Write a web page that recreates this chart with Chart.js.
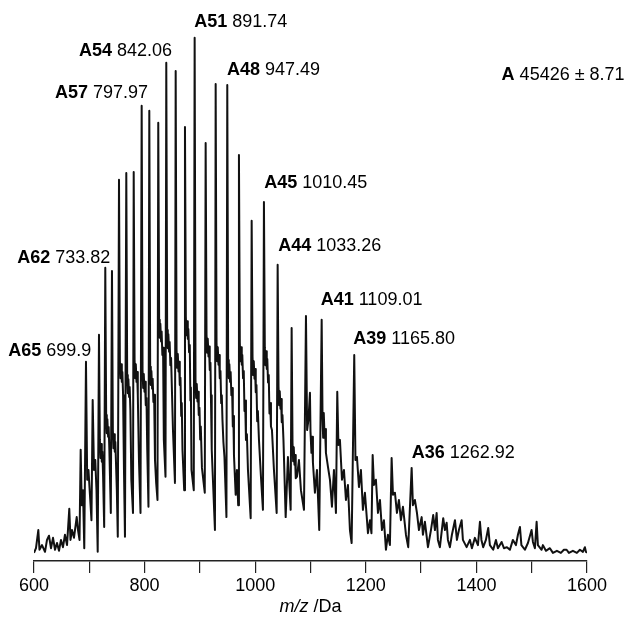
<!DOCTYPE html>
<html>
<head>
<meta charset="utf-8">
<script src="https://cdn.jsdelivr.net/npm/chart.js@4.4.1/dist/chart.umd.min.js"></script>
<style>
  html, body { margin: 0; padding: 0; background: #fff; }
  #wrap { width: 624px; height: 622px; }
</style>
</head>
<body>
<div id="wrap"><canvas id="myChart" width="624" height="622"></canvas></div>
<script>
const FONT = "'Liberation Sans', Arial, sans-serif";

// spectrum: m/z and relative intensity (%)
const spectrumMz = [
    600, 603.6, 607.8, 609.9, 614.5, 619.9, 623.5, 627.1, 630.7, 634.4, 638.0, 641.6, 645.2, 648.8, 652.4, 656.0, 659.7,
    663.8, 666.0, 668.7, 672.3, 677.2, 679.6, 682.3, 684.4, 686.4, 688.6, 690.9,
    694.0, 696.2, 698.5, 701.2, 703.9, 706.1, 708.5, 710.8, 713.0, 715.2,
    717.5, 719.1, 720.2, 721.3, 722.6, 723.6, 724.9, 726.9,
    728.9, 730.5, 731.6, 732.7, 734.0, 735.0, 736.3, 738.9,
    741.0, 742.6, 743.7, 744.8, 746.1, 747.1, 748.4, 749.8, 751.5,
    753.7, 755.3, 756.4, 757.5, 758.8, 759.8, 761.1, 762.7, 764.5,
    766.9, 768.5, 769.6, 770.7, 772.0, 773.0, 774.3, 776.0, 779.0,
    780.3, 781.9, 783.0, 784.1, 785.4, 786.4, 787.7, 789.8, 792.6,
    794.7, 796.3, 797.4, 798.5, 799.8, 800.8, 802.1, 803.4, 804.8, 807.0,
    808.5, 810.1, 811.2, 812.3, 813.6, 814.6, 815.9, 817.2, 818.8, 821.0, 823.3,
    824.7, 826.3, 827.4, 828.5, 829.8, 830.8, 832.1, 833.4, 834.8, 837.8,
    839.2, 840.8, 841.9, 843.0, 844.3, 845.3, 846.6, 847.9, 851.3, 854.9,
    856.2, 857.8, 858.9, 860.0, 861.3, 862.3, 863.6, 864.9, 866.2, 867.2, 868.5, 871.6,
    873.0, 874.6, 875.7, 876.8, 878.1, 879.1, 880.4, 881.7, 882.8, 883.7, 884.8, 888.9,
    890.5, 892.1, 893.2, 894.3, 895.6, 896.6, 897.9, 899.2, 900.5, 901.6, 903.7, 908.8,
    910.4, 912.0, 913.1, 914.2, 915.5, 916.5, 917.8, 919.1, 920.2, 921.0, 921.8, 927.2,
    928.5, 930.1, 931.2, 932.3, 933.6, 934.6, 935.9, 937.2, 938.5, 939.6, 940.8, 942.5, 944.4, 948.0,
    949.5, 951.1, 952.2, 953.3, 954.6, 955.6, 956.9, 958.2, 959.5, 960.5, 961.6, 964.7, 967.0, 969.2,
    970.6, 972.2, 973.3, 974.4, 975.7, 976.7, 978.0, 979.3, 980.6, 981.8, 983.3, 985.0, 986.9, 991.8,
    993.6, 995.2, 996.3, 997.4, 998.7, 999.7, 1001.0, 1002.3, 1003.6, 1004.8, 1006.8, 1010.4, 1014.0,
    1015.8, 1017.4, 1018.5, 1019.6, 1020.9, 1021.9, 1023.2, 1024.5, 1025.8, 1027.0, 1028.5, 1030.3, 1033.9, 1038.8,
    1040.6, 1042.2, 1043.3, 1044.4, 1045.7, 1046.7, 1048.0, 1049.3, 1051.1, 1055.1, 1059.2, 1064.1,
    1065.9, 1067.5, 1068.6, 1069.7, 1071.0, 1072.0, 1073.3, 1075.5, 1079.1, 1082.7, 1088.2,
    1091.8, 1093.9, 1096.3, 1099.0, 1100.0, 1101.7, 1102.8, 1104.4, 1108.0, 1111.7, 1115.8,
    1120.2, 1121.8, 1122.9, 1124.0, 1125.3, 1126.3, 1127.9, 1131.6, 1135.2, 1138.8, 1142.4, 1146.0,
    1148.4, 1150.5, 1153.2, 1156.9, 1160.5, 1164.1, 1167.7, 1171.3, 1174.4,
    1179.1, 1181.3, 1184.0, 1187.6, 1191.2, 1194.8, 1198.4, 1203.9, 1207.5, 1210.2,
    1212.4, 1214.7, 1218.3, 1222.0, 1225.6, 1229.2, 1232.8, 1236.4, 1240.0, 1243.6,
    1246.7, 1249.1, 1252.7, 1256.3, 1259.9, 1263.5, 1267.2, 1272.6, 1276.7,
    1282.9, 1285.2, 1288.8, 1292.5, 1296.1, 1301.0, 1303.3, 1306.9, 1312.4, 1317.8,
    1321.9, 1325.0, 1328.1, 1330.4, 1334.0, 1340.0, 1343.1, 1346.2, 1348.5, 1352.1, 1355.7,
    1361.2, 1364.8, 1368.4, 1373.3, 1375.6, 1382.3, 1388.3, 1391.9, 1397.3, 1402.8,
    1406.4, 1409.1, 1412.3, 1417.2, 1421.4, 1424.4, 1430.4, 1435.3, 1438.9, 1445.6, 1449.8, 1455.2, 1460.6,
    1466.0, 1471.5, 1475.1, 1478.7, 1481.4, 1487.7, 1493.2, 1499.8, 1502.2, 1505.8, 1508.9, 1511.2, 1517.9,
    1520.3, 1525.7, 1532.9, 1538.4, 1545.6, 1552.8, 1558.2, 1563.1, 1567.3, 1574.5, 1581.7, 1587.2, 1592.6, 1596.2, 1598.0, 1600
];
const spectrumIntensity = [
    0.6, 1.5, 5.0, 1.2, 2.1, 0.8, 3.1, 3.9, 1.5, 3.5, 1.2, 2.5, 1.0, 3.1, 1.7, 4.1, 2.1,
    9.1, 3.1, 5.0, 3.5, 7.5, 5.0, 3.1, 20.5, 9.8, 12.7, 1.5,
    37.5, 14.7, 16.6, 11.8, 6.9, 30.1, 16.6, 18.5, 12.7, 0.8,
    42.7, 22.4, 18.9, 21.6, 18.2, 20.1, 15.6, 5.6,
    55.6, 27.2, 23.7, 26.4, 23.0, 24.9, 20.4, 8.3,
    55.0, 24.3, 20.8, 23.5, 20.1, 22.0, 17.5, 12.7, 3.7,
    72.6, 37.8, 34.3, 37.0, 33.6, 35.5, 31.0, 16.6, 3.7,
    73.9, 34.9, 31.4, 34.1, 30.7, 32.6, 28.1, 14.7, 8.3,
    74.1, 37.8, 34.3, 37.0, 33.6, 35.5, 31.0, 18.5, 8.3,
    86.9, 35.9, 32.4, 35.1, 31.7, 33.6, 29.1, 30.5, 20.5, 9.5,
    85.9, 36.5, 33.0, 35.7, 32.3, 34.2, 29.7, 31.1, 18.5, 14.0, 10.8,
    83.6, 45.6, 42.1, 44.8, 41.4, 43.3, 38.8, 40.2, 22.4, 15.3,
    95.2, 43.6, 40.1, 42.8, 39.4, 41.3, 36.8, 38.2, 24.3, 14.1,
    93.6, 39.8, 36.3, 39.0, 35.6, 37.5, 33.0, 34.4, 27.0, 29.5, 20.5, 12.7,
    82.8, 46.1, 42.6, 45.3, 41.9, 43.8, 39.3, 40.7, 30.0, 32.5, 16.6, 12.7,
    100, 34.0, 30.5, 33.2, 29.8, 31.7, 27.2, 28.6, 22.5, 25.0, 17.0, 12.2,
    79.7, 42.7, 39.2, 41.9, 38.5, 40.4, 35.9, 37.3, 29.0, 31.0, 20.5, 5.0,
    91.1, 41.1, 37.6, 40.3, 36.9, 38.8, 34.3, 35.7, 29.5, 31.0, 26.3, 22.0, 19.1, 7.5,
    90.9, 37.8, 34.3, 37.0, 33.6, 35.5, 31.0, 32.4, 25.0, 27.0, 19.5, 11.8, 16.6, 9.8,
    77.4, 41.1, 37.6, 40.3, 36.9, 38.8, 34.3, 35.7, 28.0, 30.0, 22.4, 23.5, 16.6, 7.3,
    64.7, 38.4, 34.9, 37.6, 34.2, 36.1, 31.6, 33.0, 26.0, 28.0, 22.4, 15.3, 8.9,
    68.3, 40.3, 36.8, 39.5, 36.1, 38.0, 33.5, 34.9, 27.5, 29.5, 25.0, 24.3, 16.6, 8.3,
    56.2, 32.6, 29.1, 31.8, 28.4, 30.3, 25.8, 27.2, 22.4, 7.5, 19.1, 8.9,
    44.0, 21.8, 18.3, 21.0, 17.6, 19.5, 15.0, 15.3, 18.5, 12.7, 8.9,
    46.3, 24.3, 26.3, 31.5, 24.0, 19.9, 23.0, 18.0, 12.2, 16.6, 5.0,
    45.6, 26.3, 22.8, 27.6, 23.4, 24.5, 19.9, 17.2, 14.7, 9.5, 16.6, 8.3,
    31.7, 21.4, 22.4, 14.7, 16.6, 10.8, 13.7, 5.0, 2.5,
    38.8, 18.5, 19.1, 13.3, 16.6, 8.9, 12.2, 4.4, 6.9, 4.4,
    19.5, 13.7, 14.7, 8.3, 10.8, 5.0, 6.9, 1.2, 4.1, 2.1,
    18.9, 11.8, 12.2, 8.3, 10.8, 6.9, 9.5, 4.1, 1.7,
    17.0, 9.8, 10.8, 8.3, 5.0, 7.5, 4.1, 6.6, 1.7, 5.0,
    7.9, 5.0, 8.3, 3.1, 1.7, 7.3, 5.0, 6.4, 3.1, 1.7, 4.1,
    6.9, 3.1, 5.0, 6.9, 3.1, 1.7, 3.1, 1.5, 3.5, 2.1,
    6.6, 3.1, 1.7, 3.1, 5.4, 2.1, 1.2, 3.1, 1.5, 2.7, 1.5, 1.7, 1.2,
    3.1, 2.1, 4.1, 5.6, 2.1, 1.2, 2.5, 5.0, 2.7, 1.5, 6.6, 2.1, 1.2,
    2.1, 1.0, 1.5, 0.6, 1.0, 0.6, 1.2, 1.2, 0.6, 1.0, 0.6, 1.2, 0.8, 1.7, 0.8, 0.6
];

// annotated charge states
const peakCharges = ['A51', 'A54', 'A48', 'A57', 'A45', 'A44', 'A62', 'A41', 'A39', 'A65', 'A36'];
const peakMzText = ['891.74', '842.06', '947.49', '797.97', '1010.45', '1033.26', '733.82', '1109.01', '1165.80', '699.9', '1262.92'];
const massName = 'A';
const massText = '45426 \u00b1 8.71';

const tickLabels = [600, 800, 1000, 1200, 1400, 1600];

// where each annotation sits, in m/z and intensity
const labelAnchors = [
    [889.8, 103.1], [681.4, 97.4], [948.9, 93.8], [638.0, 89.3], [1016.4, 71.9], [1041.7, 59.9],
    [569.8, 57.5], [1118.4, 49.3], [1177.3, 41.8], [553.5, 39.6], [1282.9, 19.9]
];
const massAnchor = [1445.6, 92.9];

if (spectrumMz.length !== spectrumIntensity.length) {
    console.error('length mismatch', spectrumMz.length, spectrumIntensity.length);
}

function drawPair(ctx, bold, normal, x, y) {
    ctx.font = 'bold 18px ' + FONT;
    ctx.fillText(bold, x, y);
    const w = ctx.measureText(bold + ' ').width;
    ctx.font = '18px ' + FONT;
    ctx.fillText(normal, x + w, y);
}

const annotations = {
    id: 'annotations',
    afterDraw(chart) {
        const ctx = chart.ctx;
        const xs = chart.scales.x, ys = chart.scales.y;
        ctx.save();
        ctx.fillStyle = '#000';
        ctx.textBaseline = 'middle';
        ctx.textAlign = 'left';
        peakCharges.forEach((c, i) => {
            drawPair(ctx, c, peakMzText[i], xs.getPixelForValue(labelAnchors[i][0]), ys.getPixelForValue(labelAnchors[i][1]));
        });
        drawPair(ctx, massName, massText, xs.getPixelForValue(massAnchor[0]), ys.getPixelForValue(massAnchor[1]));

        // axis title, m/z in italics
        const area = chart.chartArea;
        const cx = (area.left + area.right) / 2;
        const ty = area.bottom + 46;
        ctx.font = 'italic 18px ' + FONT;
        const w1 = ctx.measureText('m/z').width;
        ctx.font = '18px ' + FONT;
        const w2 = ctx.measureText(' /Da').width;
        const x0 = cx - (w1 + w2) / 2;
        ctx.font = 'italic 18px ' + FONT;
        ctx.fillText('m/z', x0, ty);
        ctx.font = '18px ' + FONT;
        ctx.fillText(' /Da', x0 + w1, ty);
        ctx.restore();
    }
};

const ctx = document.getElementById('myChart').getContext('2d');

new Chart(ctx, {
    type: 'line',
    data: {
        datasets: [{
            data: spectrumMz.map((m, i) => ({ x: m, y: spectrumIntensity[i] })),
            borderColor: '#111',
            borderWidth: 2,
            borderJoinStyle: 'round',
            pointRadius: 0,
            tension: 0,
            fill: false
        }]
    },
    options: {
        responsive: false,
        animation: false,
        layout: {
            padding: { left: 34, right: 37, top: 30, bottom: 0 }
        },
        plugins: {
            legend: { display: false },
            tooltip: { enabled: false }
        },
        scales: {
            x: {
                type: 'linear',
                min: 600,
                max: 1600,
                afterFit: (scale) => { scale.height = 61; },
                ticks: {
                    stepSize: 100,
                    autoSkip: false,
                    maxRotation: 0,
                    padding: 2,
                    color: '#000',
                    font: { family: FONT, size: 18 },
                    callback: (v) => tickLabels.includes(v) ? String(v) : ''
                },
                grid: {
                    drawOnChartArea: false,
                    drawTicks: true,
                    tickLength: 12,
                    color: '#222',
                    lineWidth: 1.2
                },
                border: { display: true, color: '#222', width: 1.5 }
            },
            y: {
                display: false,
                min: -0.97,
                max: 101.5
            }
        }
    },
    plugins: [annotations]
});
</script>
</body>
</html>
